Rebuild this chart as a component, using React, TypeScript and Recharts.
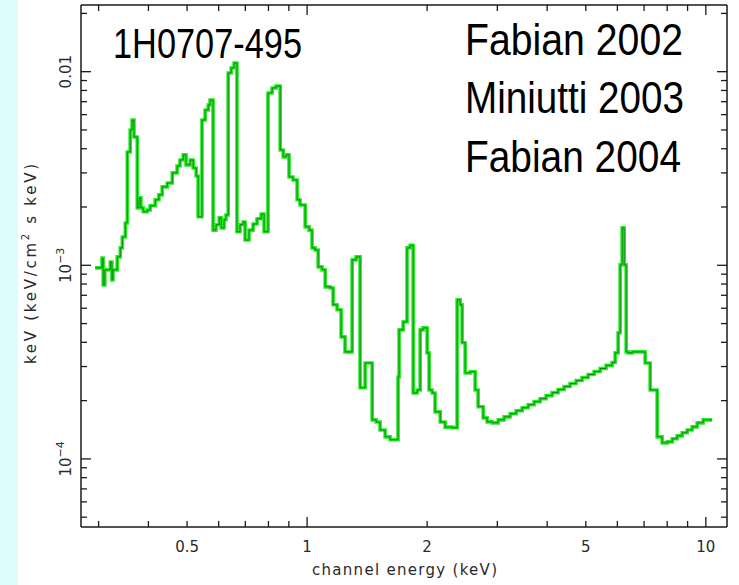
import React from "react";
import { LineChart, Line, XAxis, YAxis } from "recharts";

// Unfolded spectrum of 1H0707-495 (step histogram)
const energyKeV = [
  0.294, 0.306, 0.308, 0.311, 0.321, 0.324, 0.326, 0.334, 0.340, 0.344,
  0.350, 0.354, 0.360, 0.364, 0.368, 0.375, 0.379, 0.383, 0.388, 0.397,
  0.404, 0.416, 0.425, 0.433, 0.446, 0.459, 0.472, 0.480, 0.489, 0.497,
  0.509, 0.518, 0.527, 0.533, 0.545, 0.555, 0.565, 0.571, 0.581, 0.591,
  0.602, 0.609, 0.619, 0.626, 0.634, 0.645, 0.656, 0.667, 0.679, 0.691,
  0.699, 0.715, 0.732, 0.749, 0.767, 0.780, 0.798, 0.817, 0.836, 0.856,
  0.871, 0.886, 0.901, 0.922, 0.944, 0.960, 0.989, 1.012, 1.029, 1.047,
  1.066, 1.090, 1.110, 1.142, 1.162, 1.189, 1.217, 1.245, 1.297, 1.327,
  1.358, 1.398, 1.456, 1.490, 1.524, 1.569, 1.615, 1.691, 1.701, 1.741,
  1.781, 1.813, 1.845, 1.888, 1.921, 1.954, 2.000, 2.023, 2.059, 2.094,
  2.157, 2.219, 2.311, 2.378, 2.420, 2.448, 2.491, 2.564, 2.639, 2.685,
  2.764, 2.828, 2.911, 3.014, 3.120, 3.230, 3.344, 3.462, 3.584, 3.710,
  3.840, 3.975, 4.116, 4.261, 4.411, 4.566, 4.727, 4.894, 5.067, 5.246,
  5.432, 5.622, 5.821, 5.923, 6.026, 6.097, 6.168, 6.240, 6.312, 6.385,
  6.534, 7.043, 7.250, 7.549, 7.769, 8.000, 8.234, 8.472, 8.722, 8.977,
  9.239, 9.511, 9.845, 10.37,
];

const fluxKeV = [
  9.70e-4, 1.09e-3, 7.92e-4, 9.47e-4, 1.04e-3, 8.41e-4, 9.47e-4, 1.105e-3, 1.23e-3, 1.40e-3,
  1.655e-3, 3.85e-3, 5.00e-3, 5.63e-3, 4.60e-3, 1.98e-3, 2.23e-3, 1.98e-3, 1.89e-3, 1.93e-3,
  2.03e-3, 2.18e-3, 2.31e-3, 2.54e-3, 2.66e-3, 3.00e-3, 3.26e-3, 3.50e-3, 3.72e-3, 3.30e-3,
  3.50e-3, 3.18e-3, 2.89e-3, 1.78e-3, 5.63e-3, 6.34e-3, 6.73e-3, 7.14e-3, 1.52e-3, 1.62e-3,
  1.76e-3, 1.56e-3, 1.72e-3, 1.82e-3, 9.85e-3, 1.045e-2, 1.109e-2, 1.49e-3, 1.62e-3, 1.675e-3,
  1.35e-3, 1.52e-3, 1.635e-3, 1.74e-3, 1.84e-3, 1.49e-3, 7.76e-3, 8.24e-3, 8.44e-3, 3.94e-3,
  3.63e-3, 3.72e-3, 2.86e-3, 2.76e-3, 2.18e-3, 2.05e-3, 1.58e-3, 1.52e-3, 1.23e-3, 1.20e-3,
  9.81e-4, 9.47e-4, 7.74e-4, 7.64e-4, 6.25e-4, 5.89e-4, 4.27e-4, 3.57e-4, 1.066e-3, 1.105e-3,
  2.33e-4, 3.13e-4, 1.59e-4, 1.55e-4, 1.41e-4, 1.30e-4, 1.255e-4, 2.65e-4, 4.64e-4, 5.10e-4,
  1.23e-3, 1.27e-3, 2.19e-4, 2.27e-4, 4.64e-4, 4.75e-4, 3.53e-4, 2.27e-4, 2.19e-4, 1.75e-4,
  1.55e-4, 1.46e-4, 1.45e-4, 6.63e-4, 6.25e-4, 3.98e-4, 2.78e-4, 2.82e-4, 2.27e-4, 1.86e-4,
  1.63e-4, 1.554e-4, 1.536e-4, 1.591e-4, 1.649e-4, 1.710e-4, 1.772e-4, 1.837e-4, 1.904e-4, 1.976e-4,
  2.047e-4, 2.122e-4, 2.199e-4, 2.282e-4, 2.365e-4, 2.451e-4, 2.539e-4, 2.634e-4, 2.729e-4, 2.828e-4,
  2.931e-4, 3.04e-4, 3.15e-4, 3.53e-4, 4.48e-4, 1.005e-3, 1.56e-3, 1.005e-3, 3.57e-4, 3.53e-4,
  3.57e-4, 3.13e-4, 2.27e-4, 1.30e-4, 1.21e-4, 1.225e-4, 1.27e-4, 1.316e-4, 1.364e-4, 1.41e-4,
  1.464e-4, 1.536e-4, 1.59e-4, 1.59e-4,
];

const xTickValues = [0.3, 0.4, 0.5, 0.6, 0.7, 0.8, 0.9, 1, 2, 3, 4, 5, 6, 7, 8, 9, 10];
const xLabelValues = [0.5, 1, 2, 5, 10];
const xLabelTexts = ["0.5", "1", "2", "5", "10"];
const xMajorValues = [1, 10];

const yTickValues = [
  5e-5, 6e-5, 7e-5, 8e-5, 9e-5,
  1e-4, 2e-4, 3e-4, 4e-4, 5e-4, 6e-4, 7e-4, 8e-4, 9e-4,
  1e-3, 2e-3, 3e-3, 4e-3, 5e-3, 6e-3, 7e-3, 8e-3, 9e-3,
  1e-2, 2e-2,
];
const yLabelValues = [1e-4, 1e-3, 1e-2];
const yLabelBases = ["10", "10", "0.01"];
const yLabelExps = ["\u22124", "\u22123", ""];
const yMajorValues = [1e-4, 1e-3, 1e-2];

const sourceName = "1H0707-495";
const references = ["Fabian 2002", "Miniutti 2003", "Fabian 2004"];
const xTitle = "channel energy (keV)";

const AXIS_FONT = "'DejaVu Sans', 'Liberation Sans', sans-serif";
const BIG_FONT = "'Liberation Sans', Arial, sans-serif";
const INK = "#2a2a2a";
const FRAME = "#1a1a1a";

const same = (a: number, b: number) => Math.abs(Math.log10(a) - Math.log10(b)) < 1e-6;
const findIdx = (arr: number[], v: number) => arr.findIndex((t) => same(t, v));

const BottomTick = (p: any) => {
  const { x, y, payload } = p;
  const v = payload.value;
  const len = findIdx(xMajorValues, v) >= 0 ? 10 : 6;
  const li = findIdx(xLabelValues, v);
  return (
    <g>
      <line x1={x} y1={y} x2={x} y2={y - len} stroke={FRAME} strokeWidth={1.3} />
      {li >= 0 && (
        <text x={x} y={y + 25} textAnchor="middle" fontFamily={AXIS_FONT} fontSize={15} fill={INK}>
          {xLabelTexts[li]}
        </text>
      )}
    </g>
  );
};

const TopTick = (p: any) => {
  const { x, y, payload } = p;
  const len = findIdx(xMajorValues, payload.value) >= 0 ? 10 : 6;
  return <line x1={x} y1={y} x2={x} y2={y + len} stroke={FRAME} strokeWidth={1.3} />;
};

const LeftTick = (p: any) => {
  const { x, y, payload } = p;
  const v = payload.value;
  const len = findIdx(yMajorValues, v) >= 0 ? 10 : 6;
  const li = findIdx(yLabelValues, v);
  const lx = x - 10;
  return (
    <g>
      <line x1={x} y1={y} x2={x + len} y2={y} stroke={FRAME} strokeWidth={1.3} />
      {li >= 0 && (
        <text
          x={lx}
          y={y}
          transform={`rotate(-90 ${lx} ${y})`}
          textAnchor="middle"
          fontFamily={AXIS_FONT}
          fontSize={15}
          fill={INK}
        >
          {yLabelBases[li]}
          {yLabelExps[li] && (
            <tspan fontSize={11} dy={-7}>
              {yLabelExps[li]}
            </tspan>
          )}
        </text>
      )}
    </g>
  );
};

const RightTick = (p: any) => {
  const { x, y, payload } = p;
  const len = findIdx(yMajorValues, payload.value) >= 0 ? 10 : 6;
  return <line x1={x} y1={y} x2={x - len} y2={y} stroke={FRAME} strokeWidth={1.3} />;
};

export default function App() {
  const data = energyKeV.map((e, i) => ({ e, f: fluxKeV[i] }));
  const xDomain: [number, number] = [0.271, 11.3];
  const yDomain: [number, number] = [4.45e-5, 0.0221];
  const axisLine = { stroke: FRAME, strokeWidth: 1.5 };
  return (
    <div
      style={{
        position: "absolute",
        left: 0,
        top: 0,
        width: 739,
        height: 585,
        background: "#ffffff",
        overflow: "hidden",
      }}
    >
      <div
        style={{
          position: "absolute",
          left: 0,
          top: 0,
          width: 18,
          height: 585,
          background: "#ddfdfd",
        }}
      />
      <div style={{ position: "absolute", left: 0, top: 0 }}>
        <LineChart width={739} height={585} data={data} margin={{ top: 0, right: 0, bottom: 0, left: 0 }}>
          <XAxis
            xAxisId="bottom"
            orientation="bottom"
            dataKey="e"
            type="number"
            scale="log"
            domain={xDomain}
            allowDataOverflow
            ticks={xTickValues}
            interval={0}
            height={58}
            tickSize={0}
            tickMargin={0}
            tickLine={false}
            axisLine={axisLine}
            tick={(p: any) => <BottomTick {...p} />}
          />
          <XAxis
            xAxisId="top"
            orientation="top"
            dataKey="e"
            type="number"
            scale="log"
            domain={xDomain}
            allowDataOverflow
            ticks={xTickValues}
            interval={0}
            height={5}
            tickSize={0}
            tickMargin={0}
            tickLine={false}
            axisLine={axisLine}
            tick={(p: any) => <TopTick {...p} />}
          />
          <YAxis
            yAxisId="left"
            orientation="left"
            type="number"
            scale="log"
            domain={yDomain}
            allowDataOverflow
            ticks={yTickValues}
            interval={0}
            width={81}
            tickSize={0}
            tickMargin={0}
            tickLine={false}
            axisLine={axisLine}
            tick={(p: any) => <LeftTick {...p} />}
          />
          <YAxis
            yAxisId="right"
            orientation="right"
            type="number"
            scale="log"
            domain={yDomain}
            allowDataOverflow
            ticks={yTickValues}
            interval={0}
            width={12}
            tickSize={0}
            tickMargin={0}
            tickLine={false}
            axisLine={axisLine}
            tick={(p: any) => <RightTick {...p} />}
          />
          <Line
            xAxisId="bottom"
            yAxisId="left"
            dataKey="f"
            type="stepAfter"
            stroke="#22ee22"
            strokeWidth={3.6}
            dot={false}
            activeDot={false}
            isAnimationActive={false}
          />
          <Line
            xAxisId="top"
            yAxisId="right"
            dataKey="f"
            type="stepAfter"
            stroke="#0c4a0c"
            strokeOpacity={0.65}
            strokeWidth={1}
            dot={false}
            activeDot={false}
            isAnimationActive={false}
          />
        </LineChart>
      </div>
      <svg
        width={739}
        height={585}
        style={{ position: "absolute", left: 0, top: 0, pointerEvents: "none" }}
      >
        <text
          x={113}
          y={58}
          fontFamily={BIG_FONT}
          fontSize={42}
          fill="#000"
          textLength={189}
          lengthAdjust="spacingAndGlyphs"
        >
          {sourceName}
        </text>
        {references.map((r, i) => (
          <text
            key={r}
            x={465}
            y={[55, 113, 172][i]}
            fontFamily={BIG_FONT}
            fontSize={44}
            fill="#000"
            textLength={[218, 219, 216][i]}
            lengthAdjust="spacingAndGlyphs"
          >
            {r}
          </text>
        ))}
        <text
          x={312}
          y={575}
          fontFamily={AXIS_FONT}
          fontSize={15}
          fill={INK}
          textLength={185}
          lengthAdjust="spacing"
        >
          {xTitle}
        </text>
        <text
          x={36}
          y={264}
          transform="rotate(-90 36 264)"
          textAnchor="middle"
          fontFamily={AXIS_FONT}
          fontSize={15}
          fill={INK}
          textLength={200}
          lengthAdjust="spacing"
        >
          keV (keV/cm
          <tspan fontSize={10} dy={-7}>
            2
          </tspan>
          <tspan dy={7}>{"  s  keV)"}</tspan>
        </text>
      </svg>
    </div>
  );
}
